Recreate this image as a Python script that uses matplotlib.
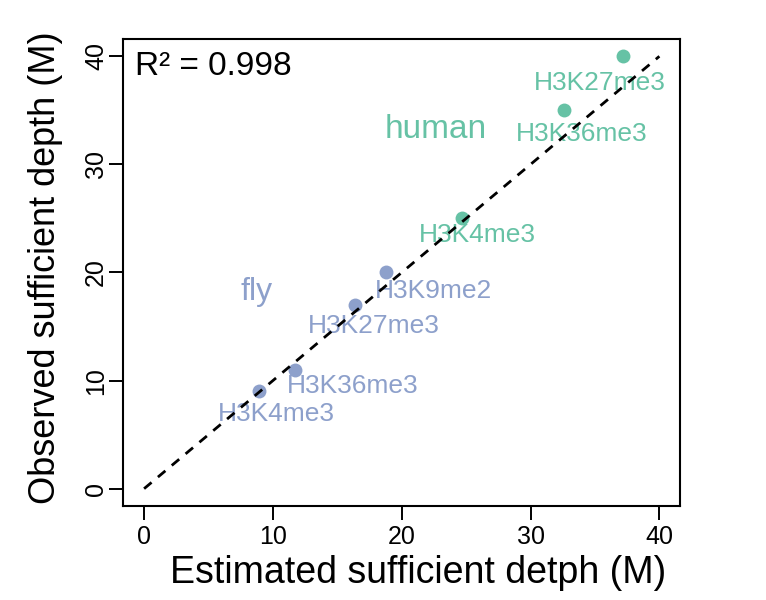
import matplotlib
matplotlib.use("Agg")
import matplotlib.pyplot as plt

plt.rcParams['font.family'] = ['Liberation Sans', 'DejaVu Sans']

# --- data ---
fly_marks = ["H3K4me3", "H3K36me3", "H3K27me3", "H3K9me2"]
fly_est = [8.9, 11.7, 16.4, 18.8]
fly_obs = [9.0, 11.0, 17.0, 20.0]

human_marks = ["H3K4me3", "H3K36me3", "H3K27me3"]
human_est = [24.7, 32.6, 37.2]
human_obs = [25.0, 35.0, 40.0]

r2 = 0.998

fly_col = "#8DA0CB"
human_col = "#66C2A5"

# label offsets in points (dx, dy) from each point
fly_offsets = [(13, -16), (42, -12), (13, -15), (34, -13)]
human_offsets = [(11, -12), (13, -17), (-17, -19)]

fig = plt.figure(figsize=(7.66, 6), dpi=100)
ax = fig.add_axes([0.1612, 0.1567, 0.7265, 0.7783])

ax.scatter(fly_est, fly_obs, s=100, color=fly_col, zorder=2, linewidths=0)
ax.scatter(human_est, human_obs, s=100, color=human_col, zorder=2, linewidths=0)

for name, x, y, off in zip(fly_marks, fly_est, fly_obs, fly_offsets):
    ax.annotate(name, (x, y), xytext=off, textcoords='offset points',
                ha='center', va='center', fontsize=19, color=fly_col, zorder=3)
for name, x, y, off in zip(human_marks, human_est, human_obs, human_offsets):
    ax.annotate(name, (x, y), xytext=off, textcoords='offset points',
                ha='center', va='center', fontsize=19, color=human_col, zorder=3)

ax.text(8.7, 18.2, "fly", fontsize=23, color=fly_col, ha='center', va='center')
ax.text(22.6, 33.2, "human", fontsize=24, color=human_col, ha='center', va='center')

# diagonal reference line
ax.plot([0, 40], [0, 40], color='black', lw=2.0, linestyle=(0, (3.5, 3)), zorder=4)

ax.text(0.02, 0.975, "R\u00b2 = " + str(r2), transform=ax.transAxes,
        fontsize=24, ha='left', va='top')

ax.set_xlim(-1.6, 41.6)
ax.set_ylim(-1.6, 41.6)
ax.set_xticks([0, 10, 20, 30, 40])
ax.set_yticks([0, 10, 20, 30, 40])
ax.tick_params(labelsize=18, length=10, width=1.4, pad=4)
ax.tick_params(axis='y', pad=1)
for lab in ax.get_yticklabels():
    lab.set_rotation(90)
    lab.set_va('center')
for sp in ax.spines.values():
    sp.set_linewidth(1.5)

ax.set_xlabel("Estimated sufficient detph (M)", fontsize=27)
ax.set_ylabel("Observed sufficient depth (M)", fontsize=26)
ax.xaxis.set_label_coords(0.53, -0.105)
ax.yaxis.set_label_coords(-0.108, 0.51)

fig.savefig("out.png", dpi=100)
